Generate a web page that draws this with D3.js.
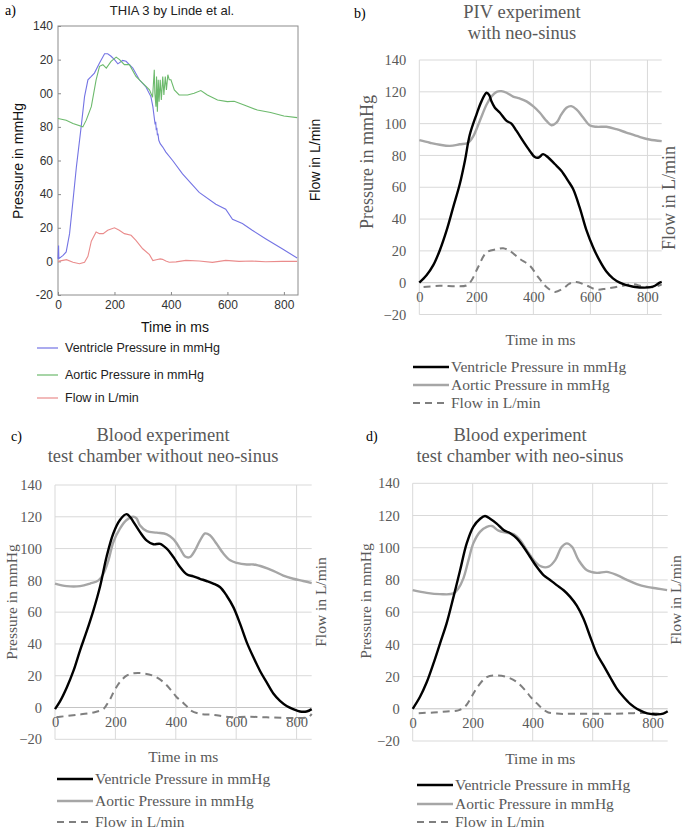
<!DOCTYPE html>
<html>
<head>
<meta charset="utf-8">
<script src="https://cdn.jsdelivr.net/npm/d3@7"></script>
<style>
body { margin: 0; background: #fff; }
</style>
</head>
<body>
<svg id="fig" width="685" height="832"></svg>
<script>
// ---- shared ticks / labels
var timeTicks = [0, 200, 400, 600, 800];
var pressTicks = [-20, 0, 20, 40, 60, 80, 100, 120, 140];
// panel a shows the leading "1" cut off on 120 / 100
var lindePressLabels = ["-20", "0", "20", "40", "60", "80", "00", "20", "140"];
var seriesNames = ["Ventricle Pressure in mmHg", "Aortic Pressure in mmHg", "Flow in L/min"];

// ---- a) THIA 3 by Linde et al.   [time ms, value]
var aVentricle = [[0,1.5],[2,9.5],[3,1.6],[18,3.6],[29,5.6],[41,16.5],[53,36],[65,56],[82,80],[94,98],[106,108],
	[118,110],[129,112],[147,118],[165,123.5],[176,123.5],[188,122],[200,120],[212,117.5],[229,119.5],[241,119],
	[265,115],[288,108],[312,103.6],[329,98],[336,92],[342,84],[344,81.5],[346,83],[348,78],[350,79.5],[352,75],
	[354,76],[357,72],[362,70],[371,68],[382,65],[406,60],[441,52],[500,41],[559,34],[594,31],[618,25],[653,22.5],
	[688,18.5],[735,13.5],[794,7.5],[847,2]];
var aAortic = [[0,85],[29,84],[53,82],[88,80],[100,84],[118,92],[135,108],[147,116],[159,117],[171,115],[188,119],
	[206,121.5],[218,120],[235,117],[253,117],[276,110],[300,106],[324,102],[335,97.6],[341,114],[343,100],[347,92],
	[349,110],[352,89],[355,108],[358,95],[362,108],[366,96],[371,110],[375,99],[380,110],[384,102],[389,111],
	[394,108],[400,108],[412,102],[429,99],[459,99],[482,100],[506,101.6],[529,99],[565,96],[600,95],[624,95.2],
	[659,93],[706,90],[753,88.5],[800,86.5],[847,85.5]];
var aFlow = [[0,0],[30,1],[53,-0.5],[76,-1.4],[94,-0.5],[106,3],[118,12],[135,17.5],[147,16.5],[160,16.5],[176,18.5],
	[200,20],[217,18.5],[235,16.5],[259,15.5],[276,12.5],[300,7.5],[324,4],[336,0.5],[348,1],[362,1.5],[370,1.2],
	[382,0.2],[394,-0.5],[418,-0.3],[453,0.6],[500,0.2],[547,-0.6],[594,0.6],[641,0],[688,0.2],[735,-0.2],[794,0],[847,0]];

// ---- b) PIV experiment with neo-sinus
var bVentricle = [[0,0],[26,4.8],[49,11],[72,20.4],[96,33],[119,47.5],[142,62],[160,76.7],[177,93],[201,106],[218,114],
	[236,119.4],[245,118],[253,114],[265,110],[282,107],[306,101.7],[323,100],[341,95.4],[364,89],[387,83],[405,79],
	[419,78.7],[434,80.8],[452,78.7],[475,74.6],[498,70.4],[522,64],[539,59],[562,47.5],[586,33],[609,22.5],[632,14],
	[656,7],[679,2.7],[703,0],[726,-1.5],[772,-3],[819,-2.5],[843,0],[850,0.5]];
var bAortic = [[0,89.6],[37,88],[72,86.7],[107,86],[142,87],[171,88],[189,92],[212,101.7],[236,112],[253,117],[271,120],
	[288,120.4],[306,119.4],[329,117],[352,115.8],[376,114],[399,111],[422,107],[446,101.7],[463,99],[481,100.6],
	[498,105.8],[516,110],[533,111],[551,109],[574,104],[597,99],[621,98],[656,98],[691,96.5],[726,94.4],[772,91.7],
	[807,90],[850,89]];
var bFlow = [[15,-2.7],[72,-2],[131,-2.3],[166,-1.7],[183,1.4],[206,9.7],[236,19],[271,21],[294,21.7],[317,20],
	[352,15],[387,10.8],[417,3.5],[446,-2.7],[475,-5.8],[504,-3.7],[527,-0.6],[551,0.4],[586,-1.7],[621,-4.3],
	[656,-3.7],[703,-2.3],[749,-1],[784,-2.3],[825,-2.7],[850,-1]];

// ---- c) Blood experiment, test chamber without neo-sinus
var cVentricle = [[0,-1],[17,4],[39,12.6],[61,23],[83,36],[105,48],[127,61],[149,76],[171,95],[193,109.5],[215,118],
	[237,121.7],[248,120],[259,117],[281,110.5],[304,105],[326,102.7],[348,103],[370,100],[392,94.7],[414,88.4],
	[436,83.8],[458,82.5],[480,81],[502,79.6],[524,78],[546,75.8],[568,70.5],[591,63],[613,52.6],[635,41],[657,31.6],
	[679,23],[701,15.8],[723,8.8],[745,4.2],[767,1],[789,-1],[811,-2.5],[833,-2.5],[850,-1]];
var cAortic = [[0,78],[39,76.4],[83,76.4],[116,78],[144,80],[160,84],[177,92.6],[193,104],[215,112.6],[237,118],
	[259,120],[270,119],[281,114.7],[304,111],[337,110],[370,109],[392,106],[414,100],[431,95],[447,94.7],[464,99],
	[480,105],[497,109.5],[513,108.4],[535,103],[557,97],[580,92.6],[602,91],[635,90],[657,90],[690,88.4],[723,86],
	[756,83],[789,81],[822,79.6],[850,78.3]];
var cFlow = [[5,-6],[17,-5.8],[72,-4.6],[127,-3.1],[160,-1],[172,2],[182,5],[195,10],[215,16],[237,20],[260,21.5],
	[292,21.5],[325,20],[359,16],[386,10.5],[403,6.5],[419,4],[435,1],[447,-1.5],[480,-4],[524,-4.6],[580,-6],
	[646,-5.8],[701,-6.2],[756,-6.5],[811,-6.6],[840,-6],[850,-4]];

// ---- d) Blood experiment, test chamber with neo-sinus
var dVentricle = [[0,0],[24,7.3],[47,16.6],[69,28],[91,40.5],[113,53],[136,69.5],[158,86],[180,102.7],[202,113],
	[225,118],[241,119.7],[258,118],[280,115],[303,111],[325,109],[347,105.8],[369,100.6],[391,94.4],[414,88],
	[436,83],[458,80],[480,76.8],[503,73.6],[525,69.5],[547,64],[569,56],[592,44.6],[614,34],[636,27],[658,19.7],
	[681,12.4],[703,7.3],[725,3],[747,0],[770,-2],[792,-3.2],[815,-3.5],[835,-3],[850,-1.5]];
var dAortic = [[0,73.7],[47,72],[91,71.2],[136,71.6],[152,74.7],[169,81],[186,92.3],[202,102.7],[225,110],[247,113],
	[264,113.5],[286,110.6],[314,109.3],[336,108.5],[358,104.8],[380,98.5],[408,91.3],[430,88.2],[453,88.2],
	[475,92.3],[497,100.6],[514,102.7],[531,100.6],[553,92.3],[581,86],[614,84.4],[647,85],[681,83],[714,80],
	[747,77.4],[781,75.7],[814,74.7],[848,73.7]];
var dFlow = [[20,-2.7],[69,-2.3],[113,-1.7],[152,-1],[175,1.4],[197,7.7],[214,13],[247,19.7],[280,20.7],[313,19.7],
	[347,16.6],[380,10.4],[392,7.5],[413,3.5],[436,-0.5],[452,-2.3],[491,-3.1],[536,-3.1],[603,-3.1],[670,-3.1],
	[736,-2.7],[803,-2.7],[825,-3.1],[842,-2.3]];

var svg = d3.select("#fig");
var SANS = "'Liberation Sans', Arial, sans-serif";
var SERIF = "'Liberation Serif', 'Times New Roman', serif";

function drawLinde() {
	var x = d3.scaleLinear().domain([0, 850]).range([58, 298]);
	var y = d3.scaleLinear().domain([-20, 140]).range([295, 26]);
	var g = svg.append("g").attr("font-family", SANS);

	g.append("text").attr("x", 5).attr("y", 15).attr("font-family", SERIF).attr("font-size", 14).text("a)");
	g.append("text").attr("x", 172).attr("y", 15).attr("text-anchor", "middle").attr("font-size", 13)
		.attr("fill", "#222").text("THIA 3 by Linde et al.");

	var ya = g.append("g").attr("transform", "translate(58,0)")
		.call(d3.axisLeft(y).tickValues(pressTicks).tickSize(-3).tickPadding(5)
			.tickFormat(function(d, i) { return lindePressLabels[i]; }));
	var xa = g.append("g").attr("transform", "translate(0,295)")
		.call(d3.axisBottom(x).tickValues(timeTicks).tickSize(-3).tickPadding(5));
	[ya, xa].forEach(function(a) {
		a.select(".domain").remove();
		a.selectAll("line").attr("stroke", "#888");
		a.selectAll("text").attr("font-size", 12).attr("font-family", SANS).attr("fill", "#333");
	});
	g.append("rect").attr("x", 58).attr("y", 26).attr("width", 240).attr("height", 269)
		.attr("fill", "none").attr("stroke", "#8c8c8c");

	var line = d3.line().x(function(d) { return x(d[0]); }).y(function(d) { return y(d[1]); });
	var cols = ["#7474e4", "#6dba6d", "#ea8c8c"];
	[aVentricle, aAortic, aFlow].forEach(function(s, i) {
		g.append("path").datum(s).attr("d", line).attr("fill", "none").attr("stroke", cols[i]).attr("stroke-width", 1.1);
	});

	g.append("text").attr("transform", "translate(23,161) rotate(-90)").attr("text-anchor", "middle")
		.attr("font-size", 14).attr("fill", "#111").text("Pressure in mmHg");
	g.append("text").attr("transform", "translate(320,160) rotate(-90)").attr("text-anchor", "middle")
		.attr("font-size", 14).attr("fill", "#111").text("Flow in L/min");
	g.append("text").attr("x", 175).attr("y", 332).attr("text-anchor", "middle")
		.attr("font-size", 14).attr("fill", "#111").text("Time in ms");

	var ly = [348, 375, 398];
	seriesNames.forEach(function(n, i) {
		g.append("line").attr("x1", 37).attr("x2", 58).attr("y1", ly[i]).attr("y2", ly[i])
			.attr("stroke", cols[i]).attr("stroke-width", 1.2);
		g.append("text").attr("x", 65).attr("y", ly[i]).attr("dy", "0.35em").attr("font-size", 12.5)
			.attr("fill", "#222").text(n);
	});
}

function drawExcel(p) {
	var x = d3.scaleLinear().domain([0, 850]).range([p.left, p.right]);
	var y = d3.scaleLinear().domain([-20, 140]).range([p.bottom, p.top]);
	var g = svg.append("g").attr("font-family", SERIF);

	g.append("text").attr("x", p.letterX).attr("y", p.titleY).attr("font-size", 14).attr("fill", "#000").text(p.letter);
	p.title.forEach(function(t, i) {
		g.append("text").attr("x", p.titleX).attr("y", p.titleY + i * 21).attr("text-anchor", "middle")
			.attr("font-size", 18.5).attr("fill", "#595959").text(t);
	});

	// gridlines
	g.append("g").selectAll("line").data(pressTicks).enter().append("line")
		.attr("x1", p.left).attr("x2", p.right)
		.attr("y1", function(d) { return y(d); }).attr("y2", function(d) { return y(d); })
		.attr("stroke", function(d) { return d === 0 ? "#c4c4c4" : "#d9d9d9"; }).attr("stroke-width", 1);
	g.append("g").selectAll("line").data(timeTicks).enter().append("line")
		.attr("x1", function(d) { return x(d); }).attr("x2", function(d) { return x(d); })
		.attr("y1", y(140)).attr("y2", y(-20)).attr("stroke", "#d9d9d9").attr("stroke-width", 1);

	var ya = g.append("g").attr("transform", "translate(" + p.left + ",0)")
		.call(d3.axisLeft(y).tickValues(pressTicks).tickSize(0).tickPadding(13));
	var xa = g.append("g").attr("transform", "translate(0," + y(0) + ")")
		.call(d3.axisBottom(x).tickValues(timeTicks).tickSize(0).tickPadding(9));
	[ya, xa].forEach(function(a) {
		a.select(".domain").remove();
		a.selectAll("text").attr("font-size", 14.5).attr("font-family", SERIF).attr("fill", "#595959");
	});

	var line = d3.line().curve(d3.curveCatmullRom.alpha(0.5))
		.x(function(d) { return x(d[0]); }).y(function(d) { return y(d[1]); });
	var styles = [
		{ c: "#000", w: 2.4, dash: null },
		{ c: "#a6a6a6", w: 2.4, dash: null },
		{ c: "#7f7f7f", w: 2, dash: "7,5" }
	];
	[p.flow, p.aortic, p.ventricle].forEach(function(s, k) {
		var st = styles[2 - k];
		g.append("path").datum(s).attr("d", line).attr("fill", "none").attr("stroke", st.c)
			.attr("stroke-width", st.w).attr("stroke-dasharray", st.dash).attr("stroke-linejoin", "round");
	});

	g.append("text").attr("transform", "translate(" + p.pressX + "," + p.pressY + ") rotate(-90)")
		.attr("text-anchor", "middle").attr("font-size", p.axisFont).attr("fill", "#595959").text("Pressure in mmHg");
	g.append("text").attr("transform", "translate(" + p.flowX + "," + p.flowY + ") rotate(-90)")
		.attr("text-anchor", "middle").attr("font-size", p.axisFont).attr("fill", "#595959").text("Flow in L/min");
	g.append("text").attr("x", (p.left + p.right) / 2).attr("y", p.timeY).attr("dy", "0.35em")
		.attr("text-anchor", "middle").attr("font-size", 15.5).attr("fill", "#595959").text("Time in ms");

	seriesNames.forEach(function(n, i) {
		var st = styles[i];
		g.append("line").attr("x1", p.legX).attr("x2", p.legX + 36).attr("y1", p.legY[i]).attr("y2", p.legY[i])
			.attr("stroke", st.c).attr("stroke-width", st.w).attr("stroke-dasharray", st.dash);
		g.append("text").attr("x", p.legX + 38).attr("y", p.legY[i]).attr("dy", "0.35em")
			.attr("font-size", 15.5).attr("fill", "#595959").text(n);
	});
}

drawLinde();
drawExcel({ letter: "b)", letterX: 354, title: ["PIV experiment", "with neo-sinus"], titleX: 522, titleY: 18,
	left: 419.3, right: 661.7, top: 60, bottom: 314.5, axisFont: 18,
	pressX: 373, pressY: 162, flowX: 675, flowY: 198, timeY: 340, legX: 413, legY: [367, 385, 403],
	ventricle: bVentricle, aortic: bAortic, flow: bFlow });
drawExcel({ letter: "c)", letterX: 11, title: ["Blood experiment", "test chamber  without neo-sinus"], titleX: 163, titleY: 441,
	left: 55, right: 311.7, top: 485, bottom: 739.3, axisFont: 15.5,
	pressX: 17, pressY: 602, flowX: 326, flowY: 602, timeY: 757, legX: 57, legY: [779, 801, 822],
	ventricle: cVentricle, aortic: cAortic, flow: cFlow });
drawExcel({ letter: "d)", letterX: 366, title: ["Blood experiment", "test chamber  with neo-sinus"], titleX: 520, titleY: 441,
	left: 412.7, right: 667.7, top: 483.3, bottom: 741, axisFont: 15.5,
	pressX: 371, pressY: 601, flowX: 681, flowY: 600, timeY: 759, legX: 417, legY: [785, 804, 822],
	ventricle: dVentricle, aortic: dAortic, flow: dFlow });
</script>
</body>
</html>
